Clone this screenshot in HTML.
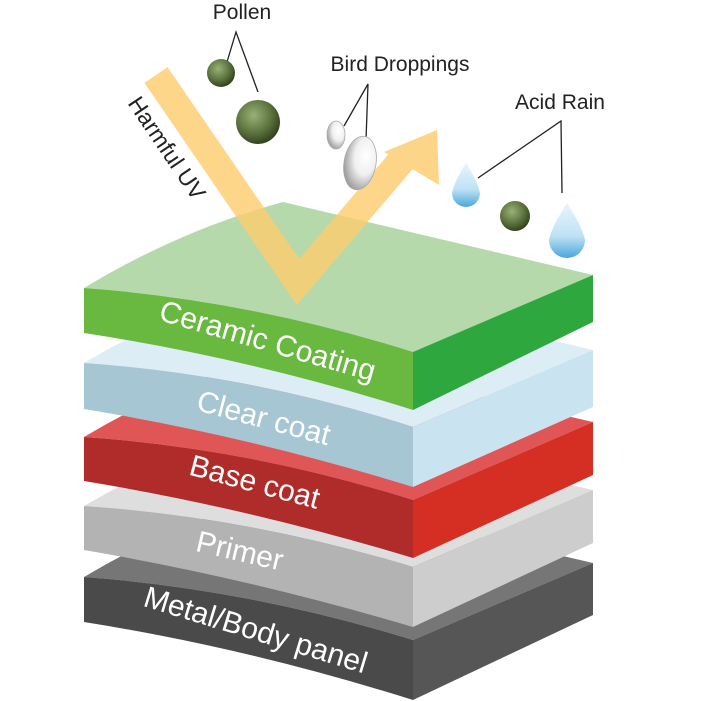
<!DOCTYPE html>
<html><head><meta charset="utf-8"><style>
html,body{margin:0;padding:0;background:#fff;}
svg{display:block;}
text{font-family:"Liberation Sans",sans-serif;}
</style></head><body>
<svg width="701" height="701" viewBox="0 0 701 701" xmlns="http://www.w3.org/2000/svg">
<defs>
<radialGradient id="pol" cx="40%" cy="35%" r="65%"><stop offset="0" stop-color="#9bb078"/><stop offset="0.6" stop-color="#5e7540"/><stop offset="1" stop-color="#34441f"/></radialGradient>
<radialGradient id="egg" cx="65%" cy="35%" r="70%"><stop offset="0" stop-color="#ffffff"/><stop offset="0.5" stop-color="#f0f0f0"/><stop offset="1" stop-color="#9a9a9a"/></radialGradient>
<linearGradient id="drop" x1="0" y1="0" x2="0" y2="1"><stop offset="0" stop-color="#e8f5fc"/><stop offset="0.6" stop-color="#bfe2f5"/><stop offset="1" stop-color="#4aa6dc"/></linearGradient>
</defs>

<path d="M84,577 Q180,520 283,491 L593,563 L413,640 Q248,589 84,577Z" fill="#767676"/>
<path d="M84,577 Q248,589 413,640 L413,700 Q248,648 84,622Z" fill="#4a4a4a"/>
<path d="M413,640 L593,563 L593,615 L413,700Z" fill="#565656"/>
<path d="M84,506 Q180,450 283,420 L593,490 L413,567 Q248,517 84,506Z" fill="#dedede"/>
<path d="M84,506 Q248,517 413,567 L413,627 Q248,578 84,550Z" fill="#b3b3b3"/>
<path d="M413,567 L593,490 L593,543 L413,627Z" fill="#cdcdcd"/>
<path d="M84,437 Q180,380 283,351 L593,422 L413,500 Q248,448 84,437Z" fill="#e05656"/>
<path d="M84,437 Q248,448 413,500 L413,558 Q248,508 84,481Z" fill="#b02c2a"/>
<path d="M413,500 L593,422 L593,475 L413,558Z" fill="#d52e22"/>
<path d="M84,363 Q180,306 283,277 L593,350 L413,427 Q248,374 84,363Z" fill="#dcedf5"/>
<path d="M84,363 Q248,374 413,427 L413,487 Q248,436 84,409Z" fill="#a6c6d4"/>
<path d="M413,427 L593,350 L593,407 L413,487Z" fill="#c9e4f0"/>
<path d="M84,288 Q180,230 283,202 L593,275 L413,352 Q248,300 84,288Z" fill="#b5d9ab"/>
<path d="M84,288 Q248,300 413,352 L413,410 Q248,358 84,333Z" fill="#69b840"/>
<path d="M413,352 L593,275 L593,322 L413,410Z" fill="#2ea83e"/>

<g opacity="0.82">
<polyline points="156,75 298,282 402,160" fill="none" stroke="#fccd70" stroke-width="28" stroke-linejoin="miter"/>
<polygon points="437,130 384,152 439,185" fill="#fccd70"/>
</g>

<g fill="#fff" font-size="30">
<text x="268" y="351" text-anchor="middle" transform="rotate(16 268 340)">Ceramic Coating</text>
<text x="264" y="428" text-anchor="middle" transform="rotate(15 264 417)">Clear coat</text>
<text x="255" y="492" text-anchor="middle" transform="rotate(15 255 481)">Base coat</text>
<text x="240" y="561" text-anchor="middle" transform="rotate(13 240 550)">Primer</text>
<text x="256" y="640" text-anchor="middle" transform="rotate(17 256 629)">Metal/Body panel</text>
</g>

<text x="167" y="156" text-anchor="middle" font-size="23" fill="#222" transform="rotate(56 167 148)">Harmful UV</text>

<text x="242" y="19" text-anchor="middle" font-size="21" fill="#222">Pollen</text>
<polyline points="227,62 236,32 258,92" fill="none" stroke="#222" stroke-width="1.3"/>
<circle cx="221" cy="73" r="14" fill="url(#pol)"/>
<circle cx="258" cy="122" r="22" fill="url(#pol)"/>
<circle cx="515" cy="216" r="15" fill="url(#pol)"/>

<text x="400" y="71" text-anchor="middle" font-size="21" fill="#222">Bird Droppings</text>
<polyline points="344,126 368,84 366,140" fill="none" stroke="#222" stroke-width="1.3"/>
<ellipse cx="336" cy="135" rx="9" ry="14" fill="url(#egg)" stroke="#aaa" stroke-width="0.8"/>
<ellipse cx="360" cy="163" rx="16" ry="27" fill="url(#egg)" stroke="#aaa" stroke-width="0.8" transform="rotate(10 360 163)"/>

<text x="560" y="109" text-anchor="middle" font-size="21" fill="#222">Acid Rain</text>
<polyline points="478,178 561,121 562,193" fill="none" stroke="#222" stroke-width="1.3"/>
<path d="M466,163 Q478,182 480,193 A14,14 0 1 1 452,193 Q454,182 466,163Z" fill="url(#drop)"/>
<path d="M567,203 Q583,228 585,240 A18,18 0 1 1 549,240 Q551,228 567,203Z" fill="url(#drop)"/>
</svg>
</body></html>
